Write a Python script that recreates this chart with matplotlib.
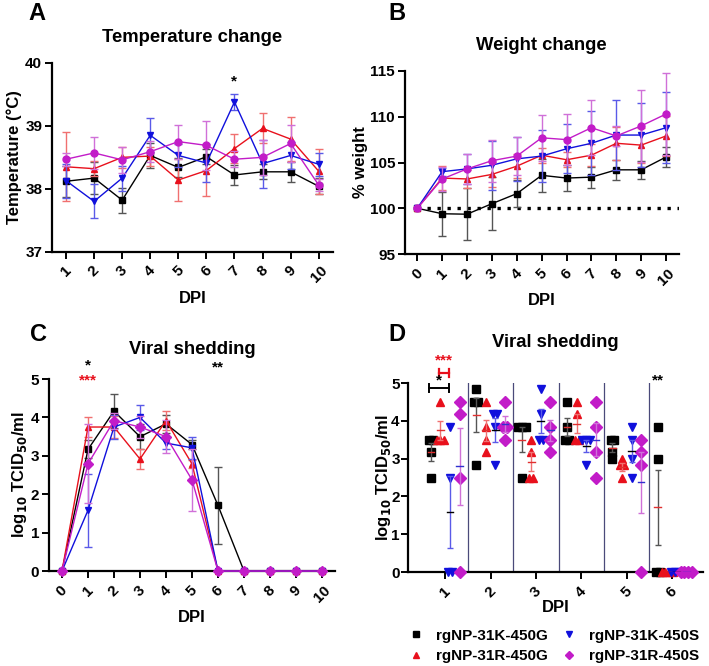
import numpy as np
import matplotlib
matplotlib.use('Agg')
import matplotlib.pyplot as plt

plt.rcParams['font.family'] = ['Liberation Sans', 'DejaVu Sans']
plt.rcParams['font.weight'] = 'bold'

groups = ['rgNP-31K-450G', 'rgNP-31R-450G', 'rgNP-31K-450S', 'rgNP-31R-450S']
colors = ['#000000', '#e8101c', '#1010dc', '#c21cc8']
bar_colors = ['#555555', '#f07070', '#5a5ae8', '#d070d8']
mean_colors = ['#e03030', '#e03030', '#000000', '#3030d0']

# A: temperature (mean, sem)
temp_days = [1, 2, 3, 4, 5, 6, 7, 8, 9, 10]
temp_k450g = [38.12, 38.17, 37.82, 38.53, 38.34, 38.51, 38.22, 38.27, 38.27, 38.04]
temp_k450g_err = [0.25, 0.25, 0.2, 0.2, 0.15, 0.12, 0.16, 0.12, 0.16, 0.13]
temp_r450g = [38.35, 38.32, 38.50, 38.52, 38.14, 38.29, 38.64, 38.96, 38.79, 38.28]
temp_r450g_err = [0.55, 0.12, 0.17, 0.15, 0.33, 0.4, 0.23, 0.24, 0.35, 0.36]
temp_k450s = [38.13, 37.80, 38.17, 38.85, 38.53, 38.41, 39.38, 38.40, 38.53, 38.39]
temp_k450s_err = [0.27, 0.27, 0.2, 0.27, 0.18, 0.3, 0.13, 0.38, 0.22, 0.18]
temp_r450s = [38.47, 38.57, 38.46, 38.59, 38.75, 38.69, 38.47, 38.50, 38.72, 38.06]
temp_r450s_err = [0.1, 0.25, 0.21, 0.17, 0.27, 0.39, 0.13, 0.28, 0.29, 0.1]

# B: weight (mean, sem)
weight_days = [0, 1, 2, 3, 4, 5, 6, 7, 8, 9, 10]
weight_k450g = [100, 99.4, 99.35, 100.5, 101.6, 103.6, 103.3, 103.4, 104.2, 104.2, 105.6]
weight_k450g_err = [0, 2.4, 2.85, 2.9, 1.45, 1.8, 1.45, 1.15, 1.1, 1.0, 1.05]
weight_r450g = [100, 103.3, 103.2, 103.7, 104.6, 105.8, 105.3, 105.8, 107.1, 106.9, 107.9]
weight_r450g_err = [0, 1.3, 1.0, 1.4, 1.3, 0.8, 0.8, 1.2, 1.8, 1.9, 2.2]
weight_k450s = [100, 104.0, 104.3, 104.7, 105.4, 105.7, 106.5, 107.1, 108.0, 108.0, 108.8]
weight_k450s_err = [0, 0.45, 1.6, 2.7, 2.4, 2.8, 2.7, 3.5, 3.8, 3.5, 3.9]
weight_r450s = [100, 103.2, 104.3, 105.2, 105.7, 107.7, 107.5, 108.8, 107.9, 109.0, 110.3]
weight_r450s_err = [0, 1.3, 1.6, 2.3, 2.1, 2.5, 2.8, 3.0, 1.1, 3.9, 4.5]

# C/D: viral shedding, individual log10 TCID50/ml values per day (DPI 1-6)
shed_days = [1, 2, 3, 4, 5, 6]
shed_k450g = [[3.5, 3.5, 3.17, 2.5], [4.83, 4.5, 4.5, 2.83], [3.83, 3.83, 3.83, 2.5],
              [4.5, 3.83, 3.5, 3.5], [3.5, 3.5, 3.17, 3.0], [3.83, 3.0, 0, 0]]
shed_r450g = [[4.5, 3.5, 3.5, 3.5], [4.5, 3.83, 3.5, 3.17], [3.5, 3.17, 2.5, 2.5],
              [4.5, 4.17, 3.5, 3.5], [3.0, 2.83, 2.83, 2.5], [0, 0, 0, 0]]
shed_k450s = [[3.83, 2.5, 0, 0], [4.17, 4.17, 3.83, 2.83], [4.83, 4.17, 3.5, 3.5],
              [3.5, 3.5, 3.5, 2.83], [3.83, 3.5, 3.0, 2.5], [0, 0, 0, 0]]
shed_r450s = [[4.5, 4.17, 2.5, 0], [4.5, 3.83, 3.83, 3.5], [4.5, 3.83, 3.5, 3.17],
              [4.5, 3.83, 3.17, 2.5], [3.5, 3.17, 2.83, 0], [0, 0, 0, 0]]
all_days_c = list(range(0, 11))

markers_ab = ['s', '^', 'v', 'o']
markers_cd = ['s', '^', 'v', 'D']

fig = plt.figure(figsize=(7.09, 6.66), dpi=100)
axA = fig.add_axes([0.0733, 0.622, 0.396, 0.2835])
axB = fig.add_axes([0.571, 0.6186, 0.386, 0.2748])
axC = fig.add_axes([0.0691, 0.1426, 0.4034, 0.2883])
axD = fig.add_axes([0.5755, 0.1411, 0.416, 0.2838])

title_size = 13.3


def style(ax, ypad=2):
    for s in ['top', 'right']:
        ax.spines[s].set_visible(False)
    for s in ['left', 'bottom']:
        ax.spines[s].set_linewidth(1.6)
    ax.tick_params(width=1.4, length=5, labelsize=11)
    ax.tick_params(axis='y', pad=ypad)
    for lab in ax.get_xticklabels():
        lab.set_rotation(45)
        lab.set_fontweight('bold')
    for lab in ax.get_yticklabels():
        lab.set_fontweight('bold')


def draw_lines(ax, x, ys, errs, markers, order):
    for g in order:
        ax.errorbar(x, ys[g], yerr=errs[g], color=colors[g], ecolor=bar_colors[g],
                    marker=markers[g], ms=5, lw=1.0, elinewidth=1.0, capsize=3,
                    capthick=1.0, clip_on=False, zorder=3 + g)


# Panel A
draw_lines(axA, temp_days, [temp_k450g, temp_r450g, temp_k450s, temp_r450s],
           [temp_k450g_err, temp_r450g_err, temp_k450s_err, temp_r450s_err],
           markers_ab, [0, 1, 3, 2])
axA.set_xlim(0.5, 10.5)
axA.set_ylim(37, 40)
axA.set_xticks(temp_days)
axA.set_yticks([37, 38, 39, 40])
axA.set_ylabel('Temperature (°C)', fontsize=12, fontweight='bold', labelpad=2)
axA.set_xlabel('DPI', fontsize=12, fontweight='bold')
axA.set_title('Temperature change', fontsize=title_size, fontweight='bold', pad=15)
axA.text(7, 39.6, '*', ha='center', va='bottom', fontsize=11)
style(axA)

# Panel B
draw_lines(axB, weight_days, [weight_k450g, weight_r450g, weight_k450s, weight_r450s],
           [weight_k450g_err, weight_r450g_err, weight_k450s_err, weight_r450s_err],
           markers_ab, [0, 1, 2, 3])
axB.plot([0, 10.5], [100, 100], color='black', lw=2.4, ls=(0, (1, 2.0)), zorder=2)
axB.set_xlim(-0.5, 10.5)
axB.set_ylim(95, 115)
axB.set_xticks(weight_days)
axB.set_yticks([95, 100, 105, 110, 115])
axB.set_ylabel('% weight', fontsize=12, fontweight='bold', labelpad=1)
axB.set_xlabel('DPI', fontsize=12, fontweight='bold')
axB.set_title('Weight change', fontsize=title_size, fontweight='bold', pad=15)
style(axB)

# Panel C: means and SEM from the individual values
shed_all = [shed_k450g, shed_r450g, shed_k450s, shed_r450s]
c_means = []
c_errs = []
for g in range(4):
    m = np.zeros(len(all_days_c))
    e = np.zeros(len(all_days_c))
    for i, d in enumerate(shed_days):
        v = np.array(shed_all[g][i])
        m[d] = v.mean()
        e[d] = v.std(ddof=1) / np.sqrt(len(v))
    c_means.append(m)
    c_errs.append(e)
draw_lines(axC, all_days_c, c_means, c_errs, markers_cd, [0, 1, 3, 2])
axC.set_xlim(-0.5, 10.5)
axC.set_ylim(0, 5)
axC.set_xticks(all_days_c)
axC.set_yticks([0, 1, 2, 3, 4, 5])
axC.set_ylabel('log$_{10}$ TCID$_{50}$/ml', fontsize=12, fontweight='bold', labelpad=1)
axC.set_xlabel('DPI', fontsize=12, fontweight='bold')
axC.set_title('Viral shedding', fontsize=title_size, fontweight='bold', pad=18)
axC.text(1, 5.16, '*', ha='center', va='bottom', fontsize=11, color='black')
axC.text(1, 4.77, '***', ha='center', va='bottom', fontsize=11, color='#e8101c')
axC.text(6, 5.13, '**', ha='center', va='bottom', fontsize=11, color='black')
style(axC)

# Panel D: scatter of individual values with mean and SEM
col_step = 0.21
spread = 0.085
for g in range(4):
    for i, d in enumerate(shed_days):
        v = np.array(shed_all[g][i])
        xc = d + (g - 1.5) * col_step
        xs = np.zeros(len(v))
        for val in np.unique(v):
            idx = np.where(v == val)[0]
            xs[idx] = xc + (np.arange(len(idx)) - (len(idx) - 1) / 2) * spread
        axD.plot(xs, v, ls='none', marker=markers_cd[g], ms=6, color=colors[g],
                 clip_on=False, zorder=4)
        m = v.mean()
        e = v.std(ddof=1) / np.sqrt(len(v))
        if e > 0:
            axD.errorbar([xc], [m], yerr=[e], color=bar_colors[g], lw=1.0, capsize=2.5,
                         capthick=1.0, zorder=5)
        axD.plot([xc - 0.075, xc + 0.075], [m, m], color=mean_colors[g], lw=1.0, zorder=6)
for d in shed_days[:-1]:
    axD.plot([d + 0.5, d + 0.5], [0, 5], color='#4a4a7a', lw=0.9, zorder=1)
axD.set_xlim(0.18, 6.68)
axD.set_ylim(0, 5)
axD.set_xticks(shed_days)
axD.set_yticks([0, 1, 2, 3, 4, 5])
axD.set_ylabel('log$_{10}$ TCID$_{50}$/ml', fontsize=12, fontweight='bold', labelpad=-1)
axD.set_xlabel('DPI', fontsize=12, fontweight='bold', labelpad=0)
axD.set_title('Viral shedding', fontsize=title_size, fontweight='bold', pad=26)
# significance brackets at DPI 1
x_k450g = 1 - 1.5 * col_step
x_r450g = 1 - 0.5 * col_step
x_k450s = 1 + 0.5 * col_step
axD.plot([x_k450g - 0.05, x_k450s - 0.02], [4.87, 4.87], color='black', lw=1.4, clip_on=False)
axD.plot([x_k450g - 0.05] * 2, [4.77, 4.97], color='black', lw=1.4, clip_on=False)
axD.plot([x_k450s - 0.02] * 2, [4.77, 4.97], color='black', lw=1.4, clip_on=False)
axD.text((x_k450g + x_k450s) / 2 - 0.03, 4.87, '*', ha='center', va='bottom', fontsize=11)
axD.plot([x_r450g - 0.04, x_k450s - 0.02], [5.27, 5.27], color='#e8101c', lw=1.6, clip_on=False)
axD.plot([x_r450g - 0.04] * 2, [5.17, 5.37], color='#e8101c', lw=1.6, clip_on=False)
axD.plot([x_k450s - 0.02] * 2, [5.17, 5.37], color='#e8101c', lw=1.6, clip_on=False)
axD.text((x_r450g + x_k450s) / 2 - 0.03, 5.42, '***', ha='center', va='bottom',
         fontsize=11, color='#e8101c')
axD.text(5.55, 4.88, '**', ha='left', va='bottom', fontsize=11, color='black')
style(axD, ypad=1)

handles = [plt.Line2D([], [], ls='none', marker=markers_cd[g], ms=4, color=colors[g])
           for g in range(4)]
fig.legend(handles, groups, loc='center', bbox_to_anchor=(0.782, 0.030), ncol=2,
           frameon=False, prop={'weight': 'bold', 'size': 11}, handlelength=0.8,
           columnspacing=1.0, handletextpad=0.9, labelspacing=0.45)

for lab, x, y in [('A', 0.04, 0.98), ('B', 0.548, 0.98), ('C', 0.042, 0.498), ('D', 0.548, 0.498)]:
    fig.text(x, y, lab, fontsize=17, fontweight='bold', ha='left', va='center')

fig.savefig('out.png', dpi=100)
